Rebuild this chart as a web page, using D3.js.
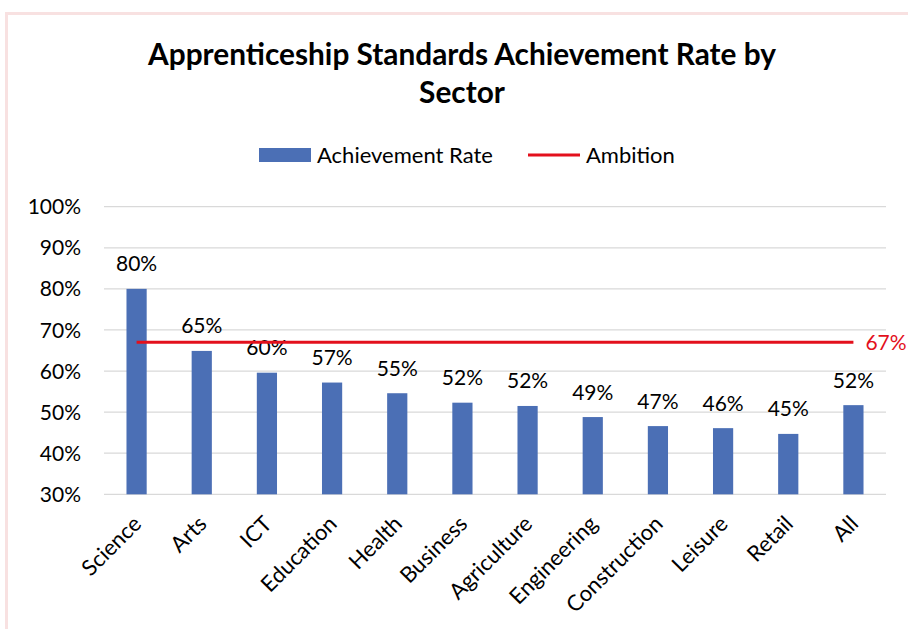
<!DOCTYPE html>
<meta charset="utf-8">
<title>Apprenticeship Standards Achievement Rate by Sector</title>
<script src="https://d3js.org/d3.v7.min.js"></script>
<style>
	body { margin: 0; background: #fff; }
	svg { display: block; font-family: Lato, "Open Sans", sans-serif; }
	.grid line { stroke: #d9d9d9; stroke-width: 1.3; }
</style>
<body>
<svg id="chart" width="908" height="629"></svg>
<script>

var sectors = ["Science", "Arts", "ICT", "Education", "Health", "Business",
	"Agriculture", "Engineering", "Construction", "Leisure", "Retail", "All"];
var achievement = [0.80, 0.649, 0.596, 0.572, 0.546, 0.523, 0.515, 0.488, 0.466, 0.461, 0.447, 0.517];
var ambition = 0.67;
var yTicks = [0.3, 0.4, 0.5, 0.6, 0.7, 0.8, 0.9, 1.0];
var titleLines = ["Apprenticeship Standards Achievement Rate by", "Sector"];

var barColor = "#4b6fb5",
	lineColor = "#e3101c";

var svg = d3.select("#chart");

// pale pink frame round the chart area
svg.append("rect")
	.attr("x", 6.5).attr("y", 13.5)
	.attr("width", 940).attr("height", 640)
	.attr("fill", "none")
	.attr("stroke", "#f8e1e1")
	.attr("stroke-width", 3);

var x = d3.scaleBand()
	.domain(sectors)
	.range([104, 886])
	.paddingInner(0.69)
	.paddingOuter(0.345);

var y = d3.scaleLinear()
	.domain([0.3, 1.0])
	.range([494.3, 206.7]);

var pct = d3.format(".0%");

// title
svg.append("g").selectAll("text")
	.data(titleLines)
	.enter().append("text")
	.attr("x", 462)
	.attr("y", function(d, i) { return 65 + i * 38; })
	.attr("text-anchor", "middle")
	.attr("font-weight", "bold")
	.attr("font-size", 29.8)
	.attr("fill", "#000")
	.text(function(d) { return d; });

// gridlines
svg.append("g")
	.attr("class", "grid")
	.selectAll("line")
	.data(yTicks)
	.enter().append("line")
	.attr("x1", 104).attr("x2", 886)
	.attr("y1", function(d) { return y(d); })
	.attr("y2", function(d) { return y(d); });

// y axis labels
svg.append("g").selectAll("text")
	.data(yTicks)
	.enter().append("text")
	.attr("x", 81)
	.attr("y", function(d) { return y(d); })
	.attr("dy", "0.36em")
	.attr("text-anchor", "end")
	.attr("font-size", 21)
	.attr("fill", "#000")
	.text(function(d) { return pct(d); });

// bars
svg.append("g").selectAll("rect")
	.data(achievement)
	.enter().append("rect")
	.attr("x", function(d, i) { return x(sectors[i]); })
	.attr("width", x.bandwidth())
	.attr("y", function(d) { return y(d); })
	.attr("height", function(d) { return y(0.3) - y(d); })
	.attr("fill", barColor);

// bar value labels
svg.append("g").selectAll("text")
	.data(achievement)
	.enter().append("text")
	.attr("x", function(d, i) { return x(sectors[i]) + x.bandwidth() / 2; })
	.attr("y", function(d) { return y(d) - 17.5; })
	.attr("text-anchor", "middle")
	.attr("font-size", 21)
	.attr("fill", "#000")
	.text(function(d) { return pct(d); });

// ambition line
var xFirst = x(sectors[0]) + x.bandwidth() / 2,
	xLast = x(sectors[sectors.length - 1]) + x.bandwidth() / 2;

svg.append("line")
	.attr("x1", xFirst).attr("x2", xLast)
	.attr("y1", y(ambition)).attr("y2", y(ambition))
	.attr("stroke", lineColor)
	.attr("stroke-width", 3);

svg.append("text")
	.attr("x", xLast + 12)
	.attr("y", y(ambition))
	.attr("dy", "0.36em")
	.attr("font-size", 21)
	.attr("fill", lineColor)
	.text(pct(ambition));

// x axis labels, rotated
svg.append("g").selectAll("text")
	.data(sectors)
	.enter().append("text")
	.attr("transform", function(d) {
		return "translate(" + (x(d) + x.bandwidth() / 2 - 5) + ",514) rotate(-45)";
	})
	.attr("dy", "0.72em")
	.attr("text-anchor", "end")
	.attr("font-size", 22)
	.attr("fill", "#000")
	.text(function(d) { return d; });

// legend
var legend = svg.append("g");
legend.append("rect")
	.attr("x", 259).attr("y", 148)
	.attr("width", 52).attr("height", 14)
	.attr("fill", barColor);
legend.append("text")
	.attr("x", 317).attr("y", 155)
	.attr("dy", "0.36em")
	.attr("font-size", 22)
	.text("Achievement Rate");
legend.append("line")
	.attr("x1", 528).attr("x2", 580)
	.attr("y1", 155).attr("y2", 155)
	.attr("stroke", lineColor)
	.attr("stroke-width", 3);
legend.append("text")
	.attr("x", 586).attr("y", 155)
	.attr("dy", "0.36em")
	.attr("font-size", 22)
	.text("Ambition");

</script>
</body>
